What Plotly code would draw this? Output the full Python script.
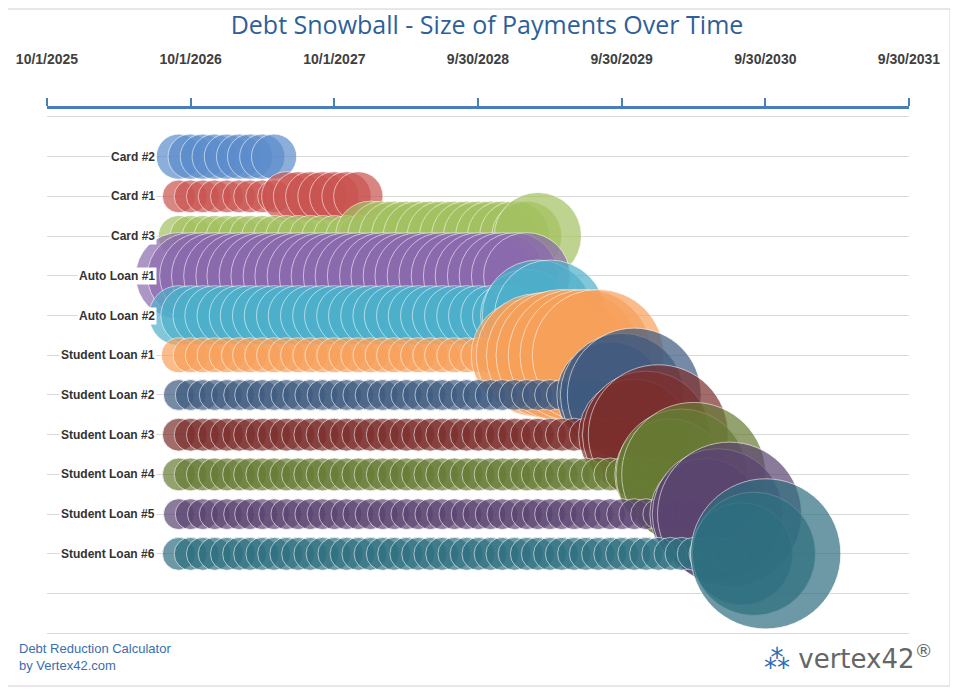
import plotly.graph_objects as go
import pandas as pd

debts = ["Card #2", "Card #1", "Card #3", "Auto Loan #1", "Auto Loan #2", "Student Loan #1",
         "Student Loan #2", "Student Loan #3", "Student Loan #4", "Student Loan #5", "Student Loan #6"]
rows = [11, 10, 9, 8, 7, 6, 5, 4, 3, 2, 1]
first_payment = "2026-09-01"
# monthly payments ($), one list per debt, starting at first_payment
pay_card2 = [215] * 9
pay_card1 = [114] * 9 + [256] * 7
pay_card3 = [178] * 16 + [514] * 14 + [800]
pay_auto1 = [784] * 30
pay_auto2 = [374] * 29 + [900, 1296, 1296]
pay_sl1 = [128] * 29 + [1300, 1600, 1700, 1820, 1820, 1820, 1820]
pay_sl2 = [100] * 36 + [1200, 1600, 1878]
pay_sl3 = [114] * 38 + [1300, 1700, 2055]
pay_sl4 = [114] * 41 + [1300, 1800, 2178]
pay_sl5 = [100] * 44 + [1300, 1800, 2178]
pay_sl6 = [114] * 47 + [1100, 1600, 2368]
payments = [pay_card2, pay_card1, pay_card3, pay_auto1, pay_auto2, pay_sl1,
            pay_sl2, pay_sl3, pay_sl4, pay_sl5, pay_sl6]
colors = ["#5b8ccb", "#c9534f", "#a3c160", "#8a6aad", "#4db0ca", "#f7a05a",
          "#3e5a80", "#7c2f2d", "#677b34", "#5a4470", "#2e6f80"]
tick_dates = ["2025-10-01", "2026-10-01", "2027-10-01", "2028-09-30", "2029-09-30", "2030-09-30", "2031-09-30"]
tick_text = ["10/1/2025", "10/1/2026", "10/1/2027", "9/30/2028", "9/30/2029", "9/30/2030", "9/30/2031"]

fig = go.Figure()
for name, row, pay, col in zip(debts, rows, payments, colors):
    dates = pd.date_range(first_payment, periods=len(pay), freq="MS")
    fig.add_trace(go.Scatter(
        x=dates, y=[row] * len(pay), mode="markers", name=name,
        marker=dict(size=pay, sizemode="area", sizeref=0.21, color=col, opacity=0.7,
                    line=dict(color="rgba(255,255,255,0.8)", width=1)),
        hoverinfo="x+text", text=[f"{name}: ${p}" for p in pay]))

for name, row in zip(debts, rows):
    fig.add_annotation(x=0.1276, xref="paper", y=row, yref="y", text=f"<b>{name}</b>",
                       showarrow=False, xanchor="right", bgcolor="white",
                       font=dict(family="Liberation Sans, Arial", size=12, color="#333333"), borderpad=1)

H = 564
fig.update_layout(
    width=958, height=689, plot_bgcolor="white", paper_bgcolor="white", showlegend=False,
    margin=dict(l=39, r=57, t=101, b=24, autoexpand=False),
    title=dict(text="Debt Snowball - Size of Payments Over Time", x=0.5, y=0.975, xanchor="center",
               yanchor="middle",
               font=dict(family="Open Sans, Liberation Sans", size=25, color="#2f5f99")),
    xaxis=dict(type="date", range=["2025-10-01", "2031-09-30"], side="top", tickvals=tick_dates,
               ticktext=[f"<b>{t}</b>" for t in tick_text], showgrid=False, showline=True,
               linecolor="#4a7ebb", linewidth=3, ticks="outside", tickcolor="#4a7ebb", tickwidth=2,
               ticklen=8, zeroline=False, automargin=False, ticklabelstandoff=28,
               tickfont=dict(family="Liberation Sans Narrow, Arial", size=14, color="#404040")),
    yaxis=dict(range=[-2, 12.2], tickvals=list(range(-2, 13)), showticklabels=False,
               gridcolor="#d9d9d9", gridwidth=1, zeroline=False, showline=False, automargin=False),
    shapes=[dict(type="rect", xref="paper", yref="paper", x0=-40/862, x1=1+41/862, y0=-13/H, y1=1+100/H,
                 line=dict(color="#d0d0d0", width=1))],
)
fig.add_annotation(x=-30/862, xref="paper", y=0.028, yref="paper", yanchor="middle", xanchor="left",
                   text="Debt Reduction Calculator<br>by Vertex42.com", align="left", showarrow=False,
                   font=dict(family="Liberation Sans Narrow, Arial", size=13, color="#3b6db0"))
fig.add_annotation(x=1 + 26/862, xref="paper", y=0.028, yref="paper", xanchor="right", yanchor="middle",
                   text="<span style='color:#2e6db4'>⁂</span> vertex42<sup>®</sup>", showarrow=False,
                   font=dict(family="DejaVu Sans", size=26, color="#666666"))
fig.write_html("out.html")
